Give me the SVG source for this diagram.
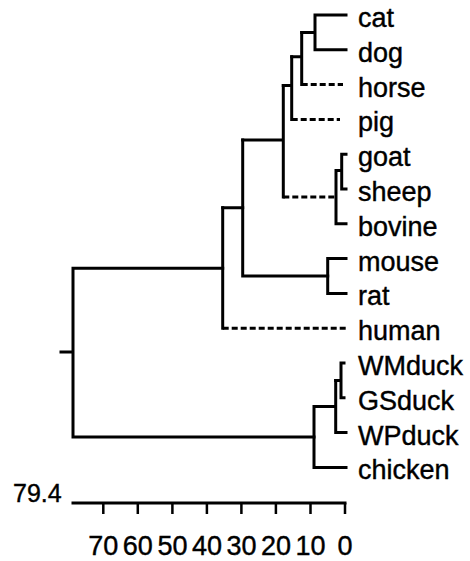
<svg xmlns="http://www.w3.org/2000/svg" width="470" height="561" viewBox="0 0 470 561">
  <style>
    .br { fill: none; stroke: #000; stroke-width: 3; stroke-linecap: square; stroke-linejoin: miter; }
    .dash { fill: none; stroke: #000; stroke-width: 3; stroke-dasharray: 6 3; }
    .tick { stroke: #000; stroke-width: 2.5; }
    .lbl { font-family: "Liberation Sans", Arial, sans-serif; font-size: 27px; fill: #000; stroke: #000; stroke-width: 0.4; }
    .ax { font-family: "Liberation Sans", Arial, sans-serif; font-size: 27px; fill: #000; stroke: #000; stroke-width: 0.4; text-anchor: middle; }
  </style>

  <!-- tree branches -->
  <g id="connectors">
    <!-- root stub and split -->
    <path class="br" d="M61 352 H73 M222.7 268.2 H73 V437 H314"/>
    <!-- mammals: (A, human) -->
    <path class="br" d="M222.7 207.7 V328.2"/>
    <path class="dash" d="M222.7 328.2 H346"/>
    <!-- A: (B, rodents) -->
    <path class="br" d="M222.7 207.7 H242.7 V276 H327.7"/>
    <path class="br" d="M242.7 140 V207.7"/>
    <!-- rodents -->
    <path class="br" d="M346 258.6 H327.7 V293.4 H346"/>
    <!-- B: (C, bovids) -->
    <path class="br" d="M242.7 140 H283.3 M283.3 85.5 V197"/>
    <path class="dash" d="M283.3 197 H336"/>
    <!-- C: (D, pig) -->
    <path class="br" d="M283.3 85.5 H291.7 M291.7 56.7 V119.4"/>
    <path class="dash" d="M291.7 119.4 H340"/>
    <!-- D: (E, horse) -->
    <path class="br" d="M291.7 56.7 H301.7 M301.7 32.4 V84.6"/>
    <path class="dash" d="M301.7 84.6 H343"/>
    <!-- E: (cat, dog) -->
    <path class="br" d="M301.7 32.4 H315 M346 15 H315 V49.8 H346"/>
    <!-- bovids -->
    <path class="br" d="M336 170.6 V223.8 H346 M336 170.6 H341.7 M346 154.2 H341.7 V189 H346"/>
    <!-- birds -->
    <path class="br" d="M314 406.5 V467.4 H346 M314 406.5 H335.7 M335.7 380.4 V432.6 H346"/>
    <path class="br" d="M335.7 380.4 H341 M344 363 H341 V397.8 H344"/>
  </g>

  <!-- leaf labels -->
  <g id="cat"><text class="lbl" x="358" y="27">cat</text></g>
  <g id="dog"><text class="lbl" x="358" y="62">dog</text></g>
  <g id="horse"><text class="lbl" x="358" y="96.6">horse</text></g>
  <g id="pig"><text class="lbl" x="358" y="131.4">pig</text></g>
  <g id="goat"><text class="lbl" x="358" y="166.2">goat</text></g>
  <g id="sheep"><text class="lbl" x="358" y="201">sheep</text></g>
  <g id="bovine"><text class="lbl" x="358" y="235.8">bovine</text></g>
  <g id="mouse"><text class="lbl" x="358" y="270.6">mouse</text></g>
  <g id="rat"><text class="lbl" x="358" y="305.4">rat</text></g>
  <g id="human"><text class="lbl" x="358" y="340.2">human</text></g>
  <g id="WMduck"><text class="lbl" x="358" y="375">WMduck</text></g>
  <g id="GSduck"><text class="lbl" x="358" y="409.8">GSduck</text></g>
  <g id="WPduck"><text class="lbl" x="358" y="444.6">WPduck</text></g>
  <g id="chicken"><text class="lbl" x="358" y="479.4">chicken</text></g>

  <!-- distance scale -->
  <g id="scale">
    <text class="lbl" x="13" y="502" style="font-size:25px">79.4</text>
    <path class="br" d="M73 503 H345"/>
    <path class="tick" d="M103.3 503 V514 M137.8 503 V514 M172.4 503 V514 M206.9 503 V514 M241.4 503 V514 M275.9 503 V514 M310.5 503 V514 M345 503 V514"/>
    <text class="ax" x="103.3" y="555">70</text>
    <text class="ax" x="137.8" y="555">60</text>
    <text class="ax" x="172.4" y="555">50</text>
    <text class="ax" x="206.9" y="555">40</text>
    <text class="ax" x="241.4" y="555">30</text>
    <text class="ax" x="275.9" y="555">20</text>
    <text class="ax" x="310.5" y="555">10</text>
    <text class="ax" x="345" y="555">0</text>
  </g>
</svg>
